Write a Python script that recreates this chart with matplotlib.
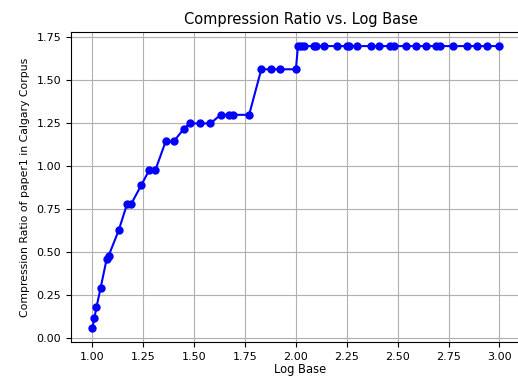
import matplotlib
matplotlib.use('Agg')
import matplotlib.pyplot as plt

# log base values and compression ratio
bases = [1.00, 1.01, 1.02, 1.04, 1.07, 1.08, 1.13, 1.17, 1.19, 1.24,
         1.28, 1.31, 1.36, 1.40, 1.45, 1.48, 1.53, 1.58, 1.63, 1.67,
         1.69, 1.77, 1.83, 1.88, 1.92, 2.00, 2.01, 2.025, 2.04, 2.09,
         2.10, 2.14, 2.20, 2.25, 2.26, 2.30, 2.37, 2.41, 2.46, 2.48,
         2.54, 2.59, 2.64, 2.69, 2.71, 2.77, 2.84, 2.89, 2.94, 3.00]
ratios = [0.06, 0.12, 0.18, 0.29, 0.46, 0.48, 0.63, 0.78, 0.78, 0.89,
          0.98, 0.98, 1.145, 1.145, 1.22, 1.25, 1.25, 1.25, 1.30, 1.30,
          1.30, 1.30, 1.565, 1.565, 1.565, 1.565, 1.70, 1.70, 1.70, 1.70,
          1.70, 1.70, 1.70, 1.70, 1.70, 1.70, 1.70, 1.70, 1.70, 1.70,
          1.70, 1.70, 1.70, 1.70, 1.70, 1.70, 1.70, 1.70, 1.70, 1.70]

fig = plt.figure(figsize=(5.18, 3.76), dpi=100)
# right edge sits past the figure so the right spine is cut off, as in the original
ax = fig.add_axes([71/518, 34/376, 459/518, 310/376])

ax.plot(bases, ratios, marker='o', color='blue', markersize=5, linewidth=1.5)
ax.set_xlim(0.895, 3.15)
ax.set_title('Compression Ratio vs. Log Base', fontsize=10.5)
ax.set_xlabel('Log Base', fontsize=8.3, labelpad=1)
ax.set_ylabel('Compression Ratio of paper1 in Calgary Corpus', fontsize=7.8, labelpad=5)
ax.set_xticks([1.0, 1.25, 1.5, 1.75, 2.0, 2.25, 2.5, 2.75, 3.0])
ax.set_yticks([0.0, 0.25, 0.5, 0.75, 1.0, 1.25, 1.5, 1.75])
ax.tick_params(labelsize=8)
ax.grid(True)

fig.savefig('out.png', dpi=100)
